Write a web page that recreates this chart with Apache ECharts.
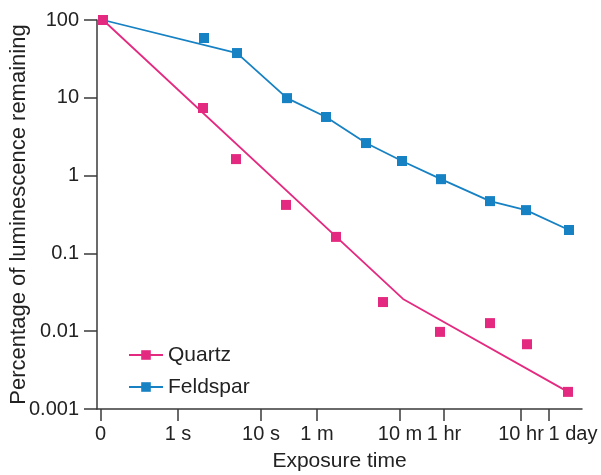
<!DOCTYPE html>
<html>
<head>
<meta charset="utf-8">
<script src="https://cdn.jsdelivr.net/npm/echarts@6/dist/echarts.min.js"></script>
<style>
  html, body { margin: 0; padding: 0; background: #fff; }
  #chart { width: 601px; height: 475px; }
</style>
</head>
<body>
<div id="chart"></div>
<script>
// x positions are in axis units along the (schematic) time axis
var xTickPos = [3.5, 81, 164, 220, 303, 347, 424, 452]
var xTickLabels = ['0', '1 s', '10 s', '1 m', '10 m', '1 hr', '10 hr', '1 day']
var yTickLabels = ['0.001', '0.01', '0.1', '1', '10', '100']

var quartzX = [6, 106, 139, 189, 239, 286, 343, 393, 430, 471]
var quartzY = [100, 7.4, 1.63, 0.42, 0.163, 0.0237, 0.0098, 0.0127, 0.0068, 0.00166]
var quartzFitX = [6, 306, 471]
var quartzFitY = [100, 0.026, 0.00166]

var feldsparX = [6, 107, 140, 190, 229, 269, 305, 344, 393, 429, 472]
var feldsparY = [100, 58.7, 37.6, 9.9, 5.67, 2.62, 1.54, 0.90, 0.47, 0.36, 0.20]
var feldsparFitX = [6, 140, 190, 229, 269, 305, 344, 393, 429, 472]
var feldsparFitY = [100, 37.6, 9.9, 5.67, 2.62, 1.54, 0.90, 0.47, 0.36, 0.20]

var pink = '#e42a80'
var blue = '#1681c3'
var ink = '#222'
var axisColor = '#3a3a3a'
var font = 'Liberation Sans, Arial, sans-serif'

function zip(xs, ys) {
  return xs.map(function (x, i) { return [x, ys[i]] })
}

var chart = echarts.init(document.getElementById('chart'))
chart.setOption({
  animation: false,
  backgroundColor: '#fff',
  textStyle: { fontFamily: font, color: ink },
  grid: { left: 97, right: 19, top: 20, bottom: 66, containLabel: false, outerBoundsMode: 'none' },
  legend: {
    data: ['Quartz', 'Feldspar'],
    orient: 'vertical',
    left: 123,
    top: 339,
    itemWidth: 34,
    itemHeight: 12,
    itemGap: 10,
    textStyle: { fontSize: 21, color: ink, fontFamily: font, lineHeight: 22 }
  },
  xAxis: {
    type: 'value',
    min: 0,
    max: 485,
    name: 'Exposure time',
    nameLocation: 'middle',
    nameGap: 42,
    nameMoveOverlap: false,
    nameTextStyle: { fontSize: 21, color: ink, fontFamily: font },
    axisLine: { show: true, lineStyle: { color: axisColor, width: 1.5 } },
    axisTick: { show: true, length: 12, customValues: xTickPos, lineStyle: { color: axisColor, width: 1.5 } },
    axisLabel: {
      customValues: xTickPos,
      margin: 15,
      fontSize: 20,
      color: ink,
      fontFamily: font,
      formatter: function (v) {
        var i = xTickPos.indexOf(v)
        var s = i >= 0 ? xTickLabels[i] : ''
        if (s === '1 day') return '{d|' + s + '}'
        return s
      },
      rich: { d: { padding: [0, 0, 0, 48], fontSize: 20, color: ink, fontFamily: font } }
    },
    splitLine: { show: false }
  },
  yAxis: {
    type: 'log',
    logBase: 10,
    min: 0.001,
    max: 100,
    name: 'Percentage of luminescence remaining',
    nameLocation: 'middle',
    nameGap: 67,
    nameMoveOverlap: false,
    nameTextStyle: { fontSize: 22, color: ink, fontFamily: font },
    axisLine: { show: true, lineStyle: { color: axisColor, width: 1.5 } },
    axisTick: { show: true, length: 13, lineStyle: { color: axisColor, width: 1.5 } },
    minorTick: { show: false },
    axisLabel: {
      margin: 18,
      fontSize: 20,
      color: ink,
      fontFamily: font,
      formatter: function (v) {
        var k = Math.round(Math.log10(v)) + 3
        return yTickLabels[k] || ''
      }
    },
    splitLine: { show: false }
  },
  series: [
    {
      name: 'Quartz',
      type: 'line',
      data: zip(quartzFitX, quartzFitY),
      symbol: 'rect',
      symbolSize: 11,
      showSymbol: false,
      itemStyle: { color: pink },
      lineStyle: { color: pink, width: 1.8 },
      z: 2
    },
    {
      name: 'Feldspar',
      type: 'line',
      data: zip(feldsparFitX, feldsparFitY),
      symbol: 'rect',
      symbolSize: 11,
      showSymbol: false,
      itemStyle: { color: blue },
      lineStyle: { color: blue, width: 1.8 },
      z: 2
    },
    {
      name: 'Feldspar',
      type: 'scatter',
      data: zip(feldsparX, feldsparY),
      symbol: 'rect',
      symbolSize: 10,
      itemStyle: { color: blue, opacity: 1 },
      z: 3
    },
    {
      name: 'Quartz',
      type: 'scatter',
      data: zip(quartzX, quartzY),
      symbol: 'rect',
      symbolSize: 10,
      itemStyle: { color: pink, opacity: 1 },
      z: 4
    }
  ]
})
</script>
</body>
</html>
